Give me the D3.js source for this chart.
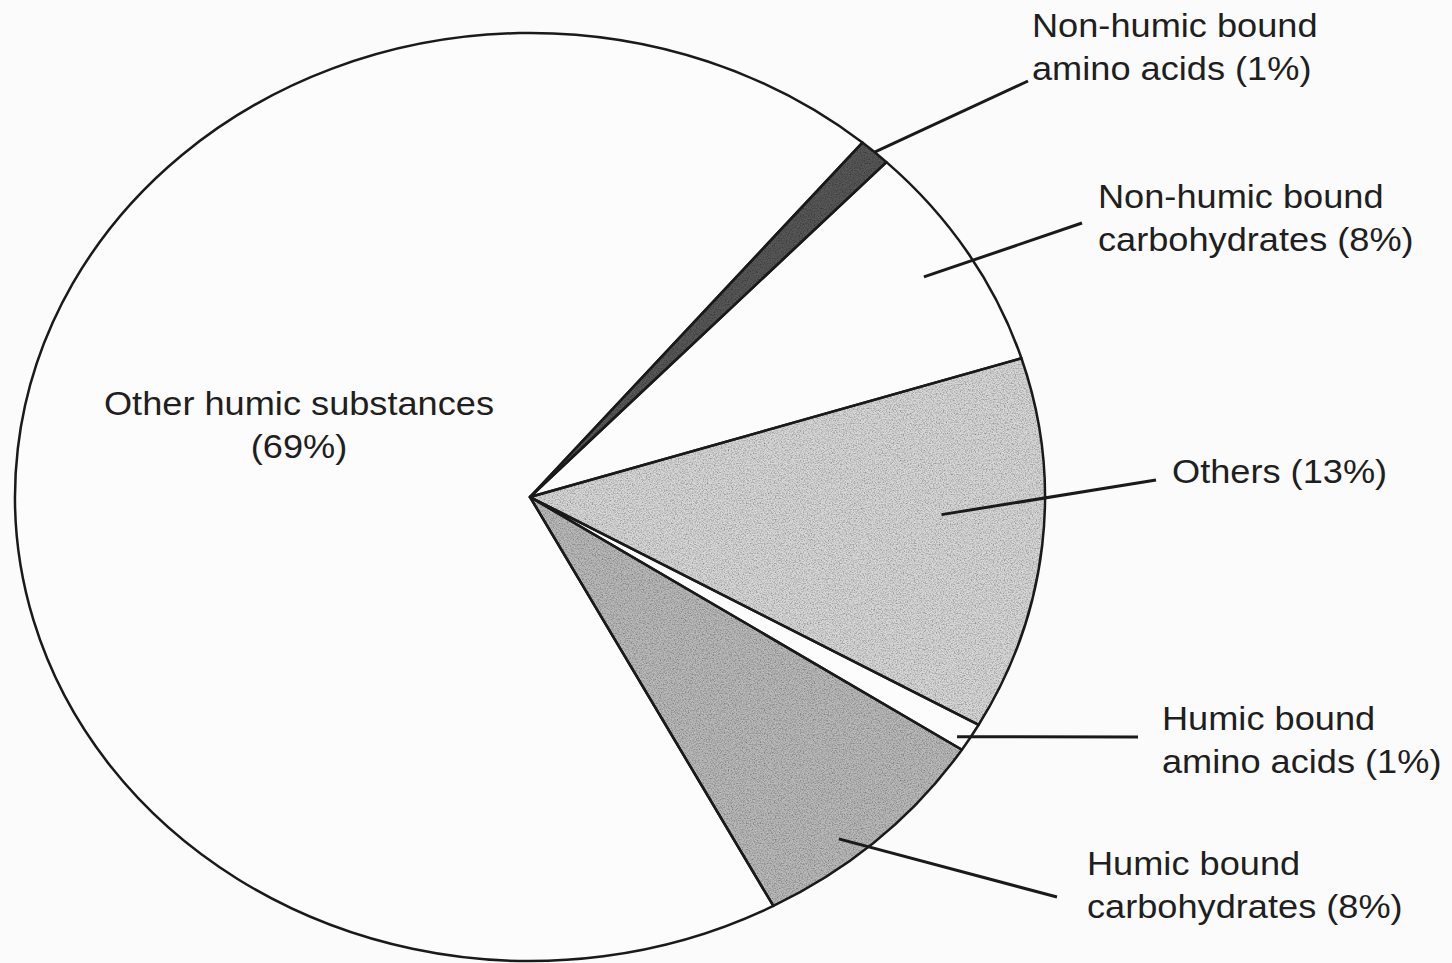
<!DOCTYPE html>
<html>
<head>
<meta charset="utf-8">
<script src="https://cdn.jsdelivr.net/npm/d3@7/dist/d3.min.js"></script>
<style>
  html, body { margin: 0; padding: 0; background: #fbfbfb; }
  svg { display: block; }
  text { font-family: "Liberation Sans", Arial, sans-serif; fill: #1f1f1f; }
</style>
</head>
<body>
<svg id="chart" width="1452" height="963"></svg>
<script>
// Composition of the organic matter, clockwise from the dark wedge
const categories = [
  "Non-humic bound amino acids",
  "Non-humic bound carbohydrates",
  "Others",
  "Humic bound amino acids",
  "Humic bound carbohydrates",
  "Other humic substances"
];
const shares = [1, 8, 13, 1, 8, 69];
const labelLines = [
  ["Non-humic bound", "amino acids (1%)"],
  ["Non-humic bound", "carbohydrates (8%)"],
  ["Others (13%)"],
  ["Humic bound", "amino acids (1%)"],
  ["Humic bound", "carbohydrates (8%)"],
  ["Other humic substances", "(69%)"]
];
const fills = ["#585858", "#fcfcfc", "#d8d8d8", "#fcfcfc", "#bababa", "#fcfcfc"];
const grainy = [true, false, true, false, true, false];

// label layout: anchor, text position, leader end (null = no leader),
// leader start: p = position across the wedge, f = radius fraction
const labelLayout = [
  { anchor: "start",  x: 1032, y: 37,  lx: 1028, ly: 81,  p: 0.5,  f: 1.0 },
  { anchor: "start",  x: 1098, y: 208, lx: 1082, ly: 223, p: 0.5,  f: 0.9 },
  { anchor: "start",  x: 1172, y: 483, lx: 1156, ly: 480, p: 0.43, f: 0.8 },
  { anchor: "start",  x: 1162, y: 730, lx: 1138, ly: 737, p: 0.7,  f: 0.977 },
  { anchor: "start",  x: 1087, y: 875, lx: 1057, ly: 897, p: 0.62, f: 0.95 },
  { anchor: "middle", x: 299,  y: 415, lx: null, ly: null, p: 0.5, f: 0 }
];

const cx = 530, cy = 497, rx = 515, ry = 464;
const sx = rx / ry;          // horizontal stretch of the pie
const textStretch = 1.08;
const lineGap = 43;

const svg = d3.select("#chart");

// speckled grain for the shaded wedges
const defs = svg.append("defs");
const grain = defs.append("filter").attr("id", "grain")
  .attr("x", "-5%").attr("y", "-5%").attr("width", "110%").attr("height", "110%");
grain.append("feTurbulence").attr("type", "fractalNoise")
  .attr("baseFrequency", 0.8).attr("numOctaves", 2).attr("seed", 7).attr("result", "noise");
grain.append("feColorMatrix").attr("in", "noise").attr("type", "matrix")
  .attr("values", "0 0 0 0 0  0 0 0 0 0  0 0 0 0 0  1.3 0 0 0 -0.5").attr("result", "specks");
grain.append("feComposite").attr("in", "specks").attr("in2", "SourceAlpha")
  .attr("operator", "in").attr("result", "clipped");
const merge = grain.append("feMerge");
merge.append("feMergeNode").attr("in", "SourceGraphic");
merge.append("feMergeNode").attr("in", "clipped");

const startAngle = 40.2 * Math.PI / 180;
const pie = d3.pie().sort(null).value(d => d)
  .startAngle(startAngle).endAngle(startAngle + 2 * Math.PI);
const arcs = pie(shares);
const arc = d3.arc().innerRadius(0).outerRadius(ry);

const pieG = svg.append("g").attr("transform", `translate(${cx},${cy}) scale(${sx},1)`);

pieG.selectAll("path.fill").data(arcs).join("path")
  .attr("class", "fill")
  .attr("d", arc)
  .attr("fill", (d, i) => fills[i])
  .attr("filter", (d, i) => grainy[i] ? "url(#grain)" : null);

pieG.selectAll("path.edge").data(arcs).join("path")
  .attr("class", "edge")
  .attr("d", arc)
  .attr("fill", "none")
  .attr("stroke", "#1a1a1a")
  .attr("stroke-width", 2.5)
  .attr("stroke-linejoin", "round")
  .attr("vector-effect", "non-scaling-stroke");

// leader lines from inside each wedge to its label
const leaders = svg.append("g");
arcs.forEach((d, i) => {
  const L = labelLayout[i];
  if (L.lx === null) return;
  const a = d.startAngle + (d.endAngle - d.startAngle) * L.p;
  const x0 = cx + rx * L.f * Math.sin(a);
  const y0 = cy - ry * L.f * Math.cos(a);
  leaders.append("line")
    .attr("x1", x0).attr("y1", y0)
    .attr("x2", L.lx).attr("y2", L.ly)
    .attr("stroke", "#1a1a1a")
    .attr("stroke-width", 3);
});

// labels
const labels = svg.append("g");
labelLines.forEach((lines, i) => {
  const L = labelLayout[i];
  lines.forEach((s, k) => {
    labels.append("text")
      .attr("transform", `translate(${L.x},${L.y + k * lineGap}) scale(${textStretch},1)`)
      .attr("text-anchor", L.anchor)
      .attr("font-size", 33.5)
      .text(s);
  });
});
</script>
</body>
</html>
